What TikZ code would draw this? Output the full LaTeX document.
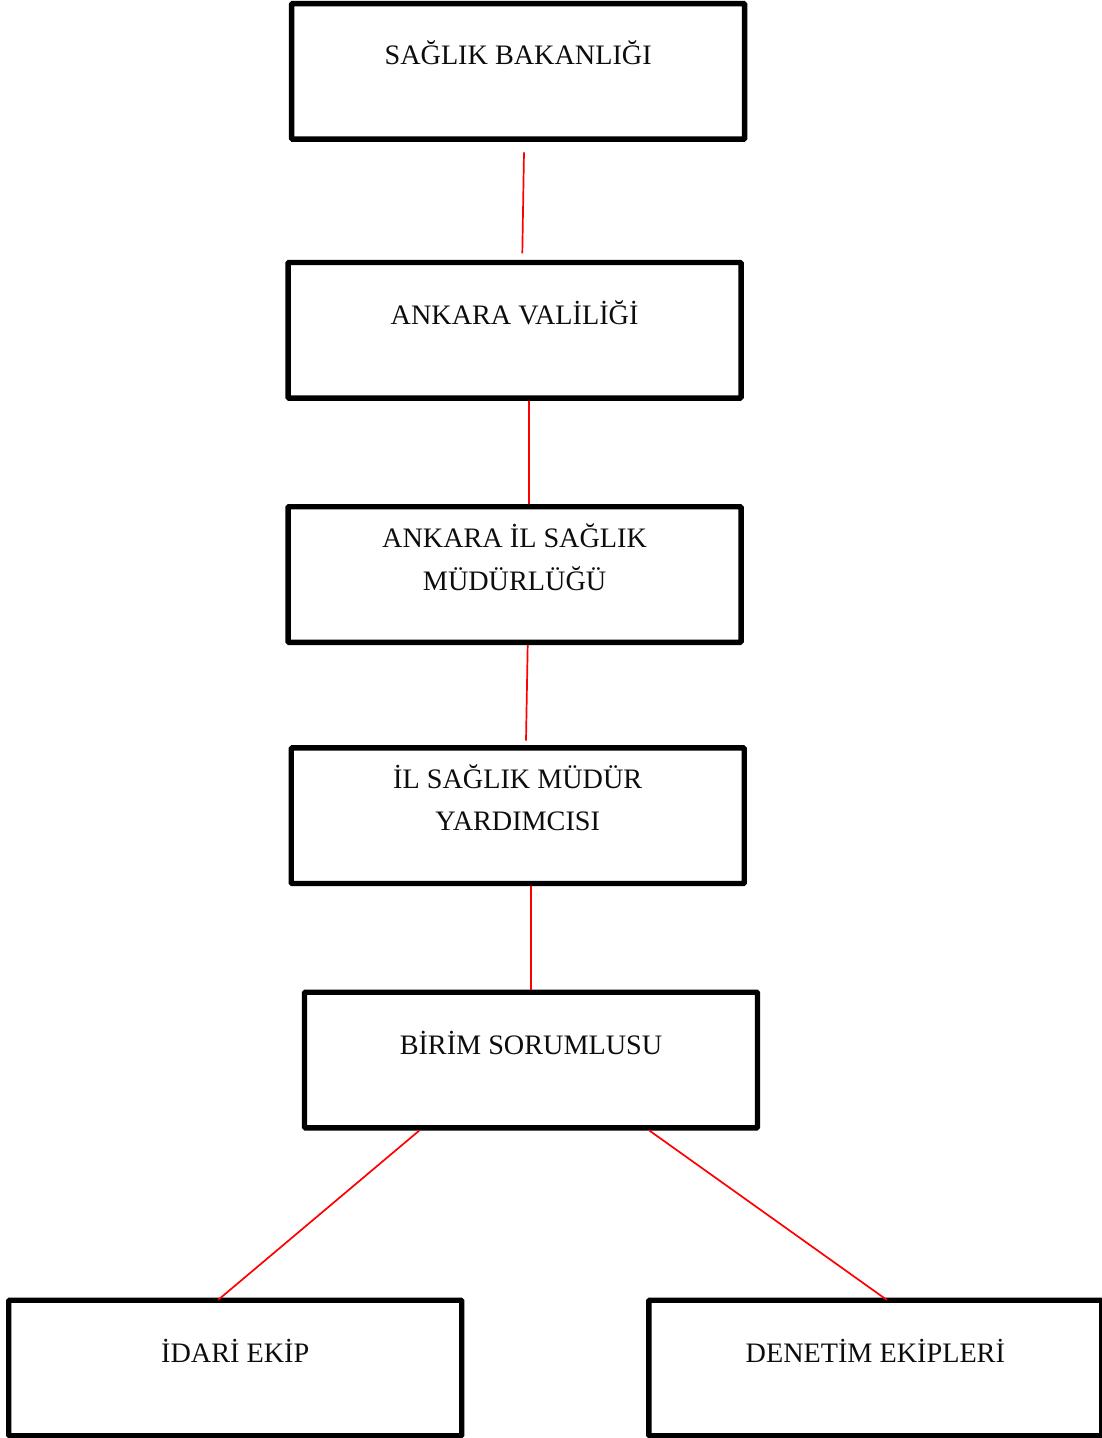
\documentclass[tikz,border=0pt]{standalone}
\usepackage{fontspec}
\setmainfont{Liberation Serif}
\usetikzlibrary{calc}
\begin{document}
\begin{tikzpicture}[x=1pt,y=-1pt,
  orgbox/.style={draw=black, line width=5.4pt, rounded corners=1pt, minimum width=453pt, minimum height=135.6pt, inner sep=0pt},
  lbl/.style={anchor=base, inner sep=0pt, font=\fontsize{28.2pt}{34pt}\selectfont, text=black!95},
  conn/.style={draw=red, line width=1.7pt}]
\useasboundingbox (0,0) rectangle (1102,1438);
% boxes
\node[orgbox] (b1) at (518.15,71.35) {};
\node[orgbox] (b2) at (514.6,330.25) {};
\node[orgbox] (b3) at (514.6,574.5) {};
\node[orgbox] (b4) at (517.75,815.65) {};
\node[orgbox] (b5) at (531,1060) {};
\node[orgbox] (b6) at (235.25,1368) {};
\node[orgbox] (b7) at (875.3,1368) {};
% texts
\node[lbl] (t1) at ($(b1.center)+(0,-6.4)$) {SAĞLIK BAKANLIĞI};
\node[lbl] (t2) at ($(b2.center)+(0,-6.2)$) {ANKARA VALİLİĞİ};
\node[lbl] (t3a) at ($(b3.center)+(0,-26.8)$) {ANKARA İL SAĞLIK};
\node[lbl] (t3b) at ($(b3.center)+(0,15.5)$) {MÜDÜRLÜĞÜ};
\node[lbl] (t4a) at ($(b4.center)+(0,-27.3)$) {İL SAĞLIK MÜDÜR};
\node[lbl] (t4b) at ($(b4.center)+(0,15)$) {YARDIMCISI};
\node[lbl] (t5) at ($(b5.center)+(0,-6)$) {BİRİM SORUMLUSU};
\node[lbl] (t6) at ($(b6.center)+(0,-5.3)$) {İDARİ EKİP};
\node[lbl] (t7) at ($(b7.center)+(0,-5.3)$) {DENETİM EKİPLERİ};
% free connector ends
\coordinate (c1s) at (524,152.3);
\coordinate (c1e) at (522.3,253.3);
\coordinate (c3e) at (526,740.5);
% connectors
\draw[conn] (c1s) -- (c1e);
\draw[conn] ([xshift=14.4]b2.south) -- ([xshift=14.4]b3.north);
\draw[conn] ([xshift=13.1]b3.south) -- (c3e);
\draw[conn] ([xshift=13.25]b4.south) -- (b5.north);
\draw[conn] ([xshift=-111.7]b5.south) -- ([xshift=-17.25,yshift=-2.5]b6.north);
\draw[conn] ([xshift=118.3]b5.south) -- ([xshift=11.7,yshift=-2.5]b7.north);
\end{tikzpicture}
\end{document}
